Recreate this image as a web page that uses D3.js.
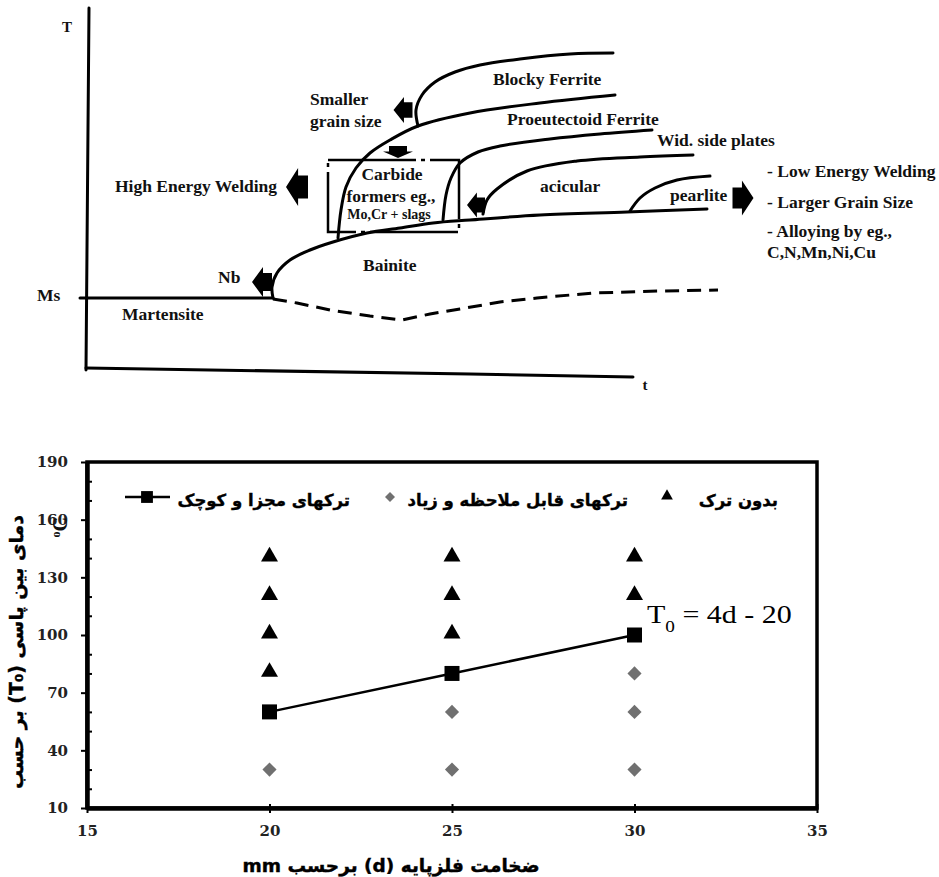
<!DOCTYPE html>
<html>
<head>
<meta charset="utf-8">
<script src="https://cdn.jsdelivr.net/npm/d3@7"></script>
<style>
  body { margin: 0; background: #fff; }
  .lbl { font-family: "Liberation Serif", "Times New Roman", serif; font-weight: bold; font-size: 17.5px; fill: #111; }
  .fa { font-family: "DejaVu Sans", sans-serif; font-weight: bold; fill: #000; }
  .tick text { font-family: "DejaVu Serif", serif; font-weight: bold; font-size: 15px; fill: #222; }
</style>
</head>
<body>
<div id="chart"></div>
<script>
///////////// TOP: schematic CCT diagram (t, T in arbitrary units) /////////////
var axisT      = [[0.6, 72.4], [0, 0]];
var axisTime   = [[0, 0.4], [76.8, -0.8], [109.4, -1.4]];
var msLine     = [[-1.2, 14.4], [37.4, 14.4]];
var bainiteStart = [[37.4, 14.4], [37.2, 16.6], [38.2, 19.4], [40.8, 22], [44.8, 24], [49.4, 25.6],
                    [56.2, 27.4], [62.8, 28.4], [69.4, 29.4], [76.8, 30], [90.8, 31], [108.2, 31.6], [124.2, 32.2]];
var bainiteEnd   = [[37.4, 14.2], [42.2, 13.4], [48.8, 12], [56.8, 10.8], [63.2, 10], [68.8, 11.2],
                    [74.8, 12.2], [82.8, 13.6], [90.2, 14.4], [101.4, 15.4], [114.8, 15.8], [126.4, 16]];
var ferriteStart = [[50.4, 26.4], [51, 32], [52, 36.6], [54, 40.4], [56.8, 43.4], [60.8, 46],
                    [66.4, 48.8], [76.8, 51.4], [90.8, 53.4], [105.8, 55]];
var blockyFerrite = [[66.4, 48.8], [66, 52], [67.2, 55], [69.8, 57.6], [73.8, 59.6], [78.8, 61],
                     [86.8, 62.2], [96.8, 63.2], [105.4, 63.4]];
var proeutectoid = [[71.4, 30], [72, 35], [73, 38.4], [74.8, 41.4], [78.4, 43.6], [82.8, 44.8],
                    [92.8, 46.2], [102.8, 47.2], [113.2, 48]];
var widPlates    = [[79.4, 31.2], [80.2, 34], [82.2, 36.2], [88.2, 39.8], [98.2, 41.8], [110.8, 42.6], [121.4, 43]];
var pearliteStart = [[108.8, 31.8], [110.8, 34.4], [113.8, 36.4], [118.2, 38], [124.8, 38.8]];
var carbideBox   = [[48.4, 42], [74.6, 27.6]];

var topLabels = [
  ["T", -3.8, 67.6, "middle"], ["t", 111.8, -4, "middle"], ["Ms", -9.8, 13.8, "start"],
  ["Martensite", 7.2, 10, "start"], ["Nb", 26.4, 17.4, "start"], ["Bainite", 55.4, 19.8, "start"],
  ["Smaller", 44.8, 53, "start"], ["grain size", 44.8, 48.6, "start"],
  ["High Energy Welding", 5.8, 35.6, "start"],
  ["Carbide", 61.2, 38, "middle"], ["formers eg.,", 61, 33.6, "middle"],
  ["Blocky Ferrite", 81.4, 57, "start"], ["Proeutectoid Ferrite", 84.2, 49, "start"],
  ["Wid. side plates", 114.2, 44.8, "start"], ["acicular", 90.8, 35.6, "start"],
  ["pearlite", 116.8, 33.8, "start"],
  ["- Low Energy Welding", 136.2, 38.6, "start"], ["- Larger Grain Size", 136.2, 32.4, "start"],
  ["- Alloying by eg.,", 136.2, 26.6, "start"], ["C,N,Mn,Ni,Cu", 136.2, 22.4, "start"]
];
// block arrows: t, T, direction (deg), length, width
var arrows = [
  [63.4, 52, 180, 19, 26], [62.4, 43.6, 90, 12, 30], [42.2, 36.6, 180, 22, 38],
  [35.2, 17.6, 180, 20, 30], [78, 33, 180, 18, 25], [131.4, 34.4, 0, 21, 35]
];

///////////// BOTTOM: interpass temperature vs thickness /////////////
var noCrackD = [20, 20, 20, 20, 25, 25, 25, 30, 30];
var noCrackT = [140, 120, 100, 80, 140, 120, 100, 140, 120];
var severeD  = [20, 25, 25, 30, 30, 30];
var severeT  = [30, 60, 30, 80, 60, 30];
var minorD   = [20, 25, 30];
var minorT   = [60, 80, 100];
var yTicks   = [10, 40, 70, 100, 130, 160, 190];
var xTicks   = [15, 20, 25, 30, 35];
var legendNames = ["ترکهای مجزا و کوچک", "ترکهای قابل ملاحظه و زیاد", "بدون ترک"];

var width = 939, height = 877;
var svg = d3.select("#chart").append("svg")
    .attr("width", width).attr("height", height);
svg.append("rect").attr("width", width).attr("height", height).attr("fill", "#fff");

// ---------- top diagram ----------
var sx = d3.scaleLinear().domain([0, 170]).range([86, 936]);
var sy = d3.scaleLinear().domain([0, 72]).range([370, 10]);

var straight = d3.line().x(function (d) { return sx(d[0]); }).y(function (d) { return sy(d[1]); });
var smooth = d3.line().x(function (d) { return sx(d[0]); }).y(function (d) { return sy(d[1]); })
    .curve(d3.curveCatmullRom.alpha(0.5));

var diag = svg.append("g").attr("fill", "none").attr("stroke", "#000").attr("stroke-linecap", "round");
[axisT, axisTime, msLine].forEach(function (l) {
    diag.append("path").attr("d", straight(l)).attr("stroke-width", 3);
});
[bainiteStart, ferriteStart, blockyFerrite, proeutectoid, widPlates, pearliteStart].forEach(function (c) {
    diag.append("path").attr("d", smooth(c)).attr("stroke-width", 3);
});
diag.append("path").attr("d", straight(bainiteEnd))
    .attr("stroke-width", 3).attr("stroke-dasharray", "14,8").attr("stroke-linecap", "butt");

// carbide former box (dash-dot)
var b0 = carbideBox[0], b1 = carbideBox[1];
diag.append("path")
    .attr("d", straight([[b0[0], b0[1]], [b1[0], b0[1]], [b1[0], b1[1]], [b0[0], b1[1]], [b0[0], b0[1]]]))
    .attr("stroke-width", 2.5).attr("stroke-linecap", "butt")
    .attr("stroke-dasharray", "88,5,4,5");

// block arrows
arrows.forEach(function (a) {
    var L = a[3], W = a[4];
    var p = "M" + (-L / 2) + "," + (-W * 0.3) + "L" + (-L * 0.05) + "," + (-W * 0.3) + "L" + (-L * 0.05) + "," + (-W / 2) +
        "L" + (L / 2) + ",0L" + (-L * 0.05) + "," + (W / 2) + "L" + (-L * 0.05) + "," + (W * 0.3) + "L" + (-L / 2) + "," + (W * 0.3) + "Z";
    svg.append("path").attr("d", p).attr("fill", "#000")
        .attr("transform", "translate(" + sx(a[0]) + "," + sy(a[1]) + ") rotate(" + a[2] + ")");
});

svg.selectAll(".toplbl").data(topLabels).enter().append("text")
    .attr("class", "lbl toplbl")
    .attr("x", function (d) { return sx(d[1]); })
    .attr("y", function (d) { return sy(d[2]); })
    .attr("text-anchor", function (d) { return d[3]; })
    .style("font-size", function (d) { return (d[0] === "T" || d[0] === "t") ? "15px" : null; })
    .text(function (d) { return d[0]; });
svg.append("text").attr("class", "lbl").attr("x", sx(60.6)).attr("y", sy(30.2))
    .attr("text-anchor", "middle").style("font-size", "14px").text("Mo,Cr + slags");

// ---------- bottom chart ----------
var x = d3.scaleLinear().domain([15, 35]).range([87, 817]);
var y = d3.scaleLinear().domain([10, 190]).range([808, 462]);

svg.append("rect")
    .attr("x", x(15)).attr("y", y(190))
    .attr("width", x(35) - x(15)).attr("height", y(10) - y(190))
    .attr("fill", "none").attr("stroke", "#000").attr("stroke-width", 3.5);

var minorY = d3.range(10, 191, 10).filter(function (v) { return yTicks.indexOf(v) < 0; });
svg.append("g").attr("transform", "translate(" + x(15) + ",0)")
    .call(d3.axisLeft(y).tickValues(minorY).tickSize(-5).tickFormat(""))
    .call(function (g) { g.select(".domain").remove(); g.selectAll("line").attr("stroke-width", 2); });

svg.append("g").attr("transform", "translate(" + x(15) + ",0)")
    .call(d3.axisLeft(y).tickValues(yTicks).tickSize(6).tickSizeOuter(0).tickPadding(13))
    .call(function (g) {
        g.select(".domain").attr("stroke-width", 4.5);
        g.selectAll(".tick line").attr("stroke-width", 2);
    });

svg.append("g").attr("transform", "translate(0," + y(10) + ")")
    .call(d3.axisBottom(x).tickValues(xTicks).tickSize(5).tickSizeOuter(0).tickPadding(12))
    .call(function (g) {
        g.select(".domain").attr("stroke-width", 4.5);
        g.selectAll(".tick line").attr("y1", -4).attr("stroke-width", 2);
    });

// line with squares (minor cracks)
svg.append("path")
    .attr("d", d3.line().x(function (d, i) { return x(minorD[i]); }).y(function (d) { return y(d); })(minorT))
    .attr("fill", "none").attr("stroke", "#000").attr("stroke-width", 2.5);

var tri = d3.symbol().type(d3.symbolTriangle).size(125);
var dia = d3.symbol().type(d3.symbolSquare).size(100);
var sq = d3.symbol().type(d3.symbolSquare).size(225);

svg.selectAll(".tri").data(noCrackT).enter().append("path")
    .attr("d", tri).attr("fill", "#000")
    .attr("transform", function (d, i) { return "translate(" + x(noCrackD[i]) + "," + (y(d) - 1.5) + ")"; });
svg.selectAll(".dia").data(severeT).enter().append("path")
    .attr("d", dia).attr("fill", "#707070")
    .attr("transform", function (d, i) { return "translate(" + x(severeD[i]) + "," + y(d) + ") rotate(45)"; });
svg.selectAll(".sq").data(minorT).enter().append("path")
    .attr("d", sq).attr("fill", "#000")
    .attr("transform", function (d, i) { return "translate(" + x(minorD[i]) + "," + y(d) + ")"; });

// legend
var ly = 497;
svg.append("line").attr("x1", 125).attr("x2", 170).attr("y1", ly).attr("y2", ly)
    .attr("stroke", "#000").attr("stroke-width", 2.5);
svg.append("path").attr("d", d3.symbol().type(d3.symbolSquare).size(140))
    .attr("transform", "translate(147," + ly + ")");
svg.append("path").attr("d", d3.symbol().type(d3.symbolSquare).size(50)).attr("fill", "#707070")
    .attr("transform", "translate(390," + ly + ") rotate(45)");
svg.append("path").attr("d", d3.symbol().type(d3.symbolTriangle).size(60))
    .attr("transform", "translate(667," + (ly - 1) + ")");
[350, 628, 778].forEach(function (xe, i) {
    svg.append("text").attr("class", "fa").attr("text-anchor", "end")
        .attr("x", xe).attr("y", ly + 9).style("font-size", "16.5px")
        .attr("stroke", "#000").attr("stroke-width", 0.4)
        .text(legendNames[i]);
});

// equation
var eq = svg.append("text")
    .attr("transform", "translate(647,623) scale(1.2,1)")
    .style("font-family", "'Liberation Serif', serif").style("font-size", "25px");
eq.append("tspan").text("T");
eq.append("tspan").attr("baseline-shift", "sub").style("font-size", "16px").text("0");
eq.append("tspan").text(" = 4d - 20");

// axis titles
svg.append("text").attr("class", "fa")
    .attr("transform", "translate(23,652) rotate(-90)")
    .attr("text-anchor", "middle").attr("direction", "rtl").style("font-size", "19px")
    .attr("stroke", "#000").attr("stroke-width", 0.4)
    .text("دمای بین پاسی (T₀) بر حسب");
var oc = svg.append("text").attr("class", "lbl")
    .attr("transform", "translate(67,517) rotate(-90)")
    .attr("text-anchor", "end").style("font-size", "20px");
oc.append("tspan").attr("baseline-shift", "super").style("font-size", "12px").text("o");
oc.append("tspan").text("C");

svg.append("text").attr("class", "fa")
    .attr("x", 391).attr("y", 872)
    .attr("text-anchor", "middle").attr("direction", "rtl").style("font-size", "18.5px")
    .attr("stroke", "#000").attr("stroke-width", 0.4)
    .text("ضخامت فلزپایه (d) برحسب mm");
</script>
</body>
</html>
